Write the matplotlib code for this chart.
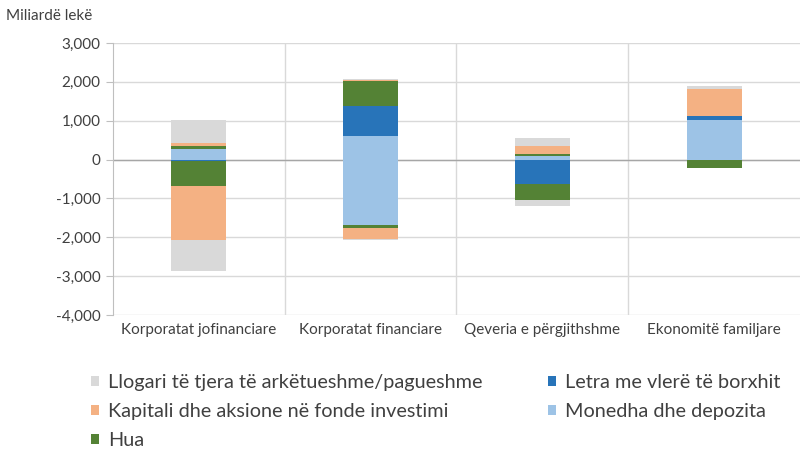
import numpy as np
import matplotlib.pyplot as plt

plt.rcParams.update({
    "font.family": ["Lato", "DejaVu Sans"],
    "text.color": "#404040",
    "axes.labelcolor": "#404040",
    "xtick.color": "#404040",
    "ytick.color": "#404040",
})

categories = ["Korporatat jofinanciare", "Korporatat financiare",
              "Qeveria e përgjithshme", "Ekonomitë familjare"]

# series in stacking order (bottom to top), positive and negative parts
monedha_pos = [270, 615, 85, 1026]
monedha_neg = [0, -1692, 0, 0]
letra_pos = [0, 770, 0, 84]
letra_neg = [-50, 0, -633, 0]
hua_pos = [80, 648, 50, 0]
hua_neg = [-640, -70, -413, -205]
kapitali_pos = [70, 25, 213, 693]
kapitali_neg = [-1390, -282, 0, 0]
llogari_pos = [610, 25, 197, 102]
llogari_neg = [-780, -16, -154, 0]

series = [
    ("Monedha dhe depozita", monedha_pos, monedha_neg, "#9dc3e6"),
    ("Letra me vlerë të borxhit", letra_pos, letra_neg, "#2874b9"),
    ("Hua", hua_pos, hua_neg, "#548235"),
    ("Kapitali dhe aksione në fonde investimi", kapitali_pos, kapitali_neg, "#f4b183"),
    ("Llogari të tjera të arkëtueshme/pagueshme", llogari_pos, llogari_neg, "#d9d9d9"),
]

fig = plt.figure(figsize=(8, 4.51), dpi=100)
ax = fig.add_axes([0.141, 0.3016, 0.859, 0.6031])

x = np.arange(len(categories))
width = 0.32
pos_bottom = np.zeros(len(categories))
neg_bottom = np.zeros(len(categories))
handles = {}
for name, pos, neg, color in series:
    pos = np.array(pos, dtype=float)
    neg = np.array(neg, dtype=float)
    h = ax.bar(x, pos, width, bottom=pos_bottom, color=color, label=name, zorder=3)
    ax.bar(x, neg, width, bottom=neg_bottom, color=color, zorder=3)
    pos_bottom += pos
    neg_bottom += neg
    handles[name] = h

ax.set_xlim(-0.5, len(categories) - 0.5)
ax.set_ylim(-4000, 3000)
ax.set_yticks(np.arange(-4000, 3001, 1000))
ax.yaxis.set_major_formatter(plt.FuncFormatter(lambda v, p: f"{int(v):,}"))
ax.set_xticks(x)
ax.set_xticklabels(categories, fontsize=11)
ax.tick_params(axis="x", length=0, pad=6)
ax.tick_params(axis="y", labelsize=11, length=5, color="#bfbfbf", pad=4)

ax.grid(axis="y", color="#d9d9d9", linewidth=1, zorder=0)
for b in np.arange(0.5, len(categories) - 0.5, 1):
    ax.axvline(b, color="#d9d9d9", linewidth=1, zorder=0)
ax.axhline(0, color="#a6a6a6", linewidth=1, zorder=2)

for s in ["top", "right", "bottom"]:
    ax.spines[s].set_visible(False)
ax.spines["left"].set_color("#bfbfbf")

fig.text(0.008, 0.955, "Miliardë lekë", fontsize=11)

order = ["Llogari të tjera të arkëtueshme/pagueshme",
         "Kapitali dhe aksione në fonde investimi",
         "Hua",
         "Letra me vlerë të borxhit",
         "Monedha dhe depozita"]
fig.legend([handles[n] for n in order], order, loc="upper left",
           bbox_to_anchor=(0.114, 0.170), bbox_transform=fig.transFigure,
           ncol=2, frameon=False, fontsize=14.3, handlelength=0.4,
           handleheight=0.4, handletextpad=0.45, columnspacing=3.3,
           labelspacing=0.6, borderaxespad=0, borderpad=0)

fig.savefig("out.png", dpi=100)
